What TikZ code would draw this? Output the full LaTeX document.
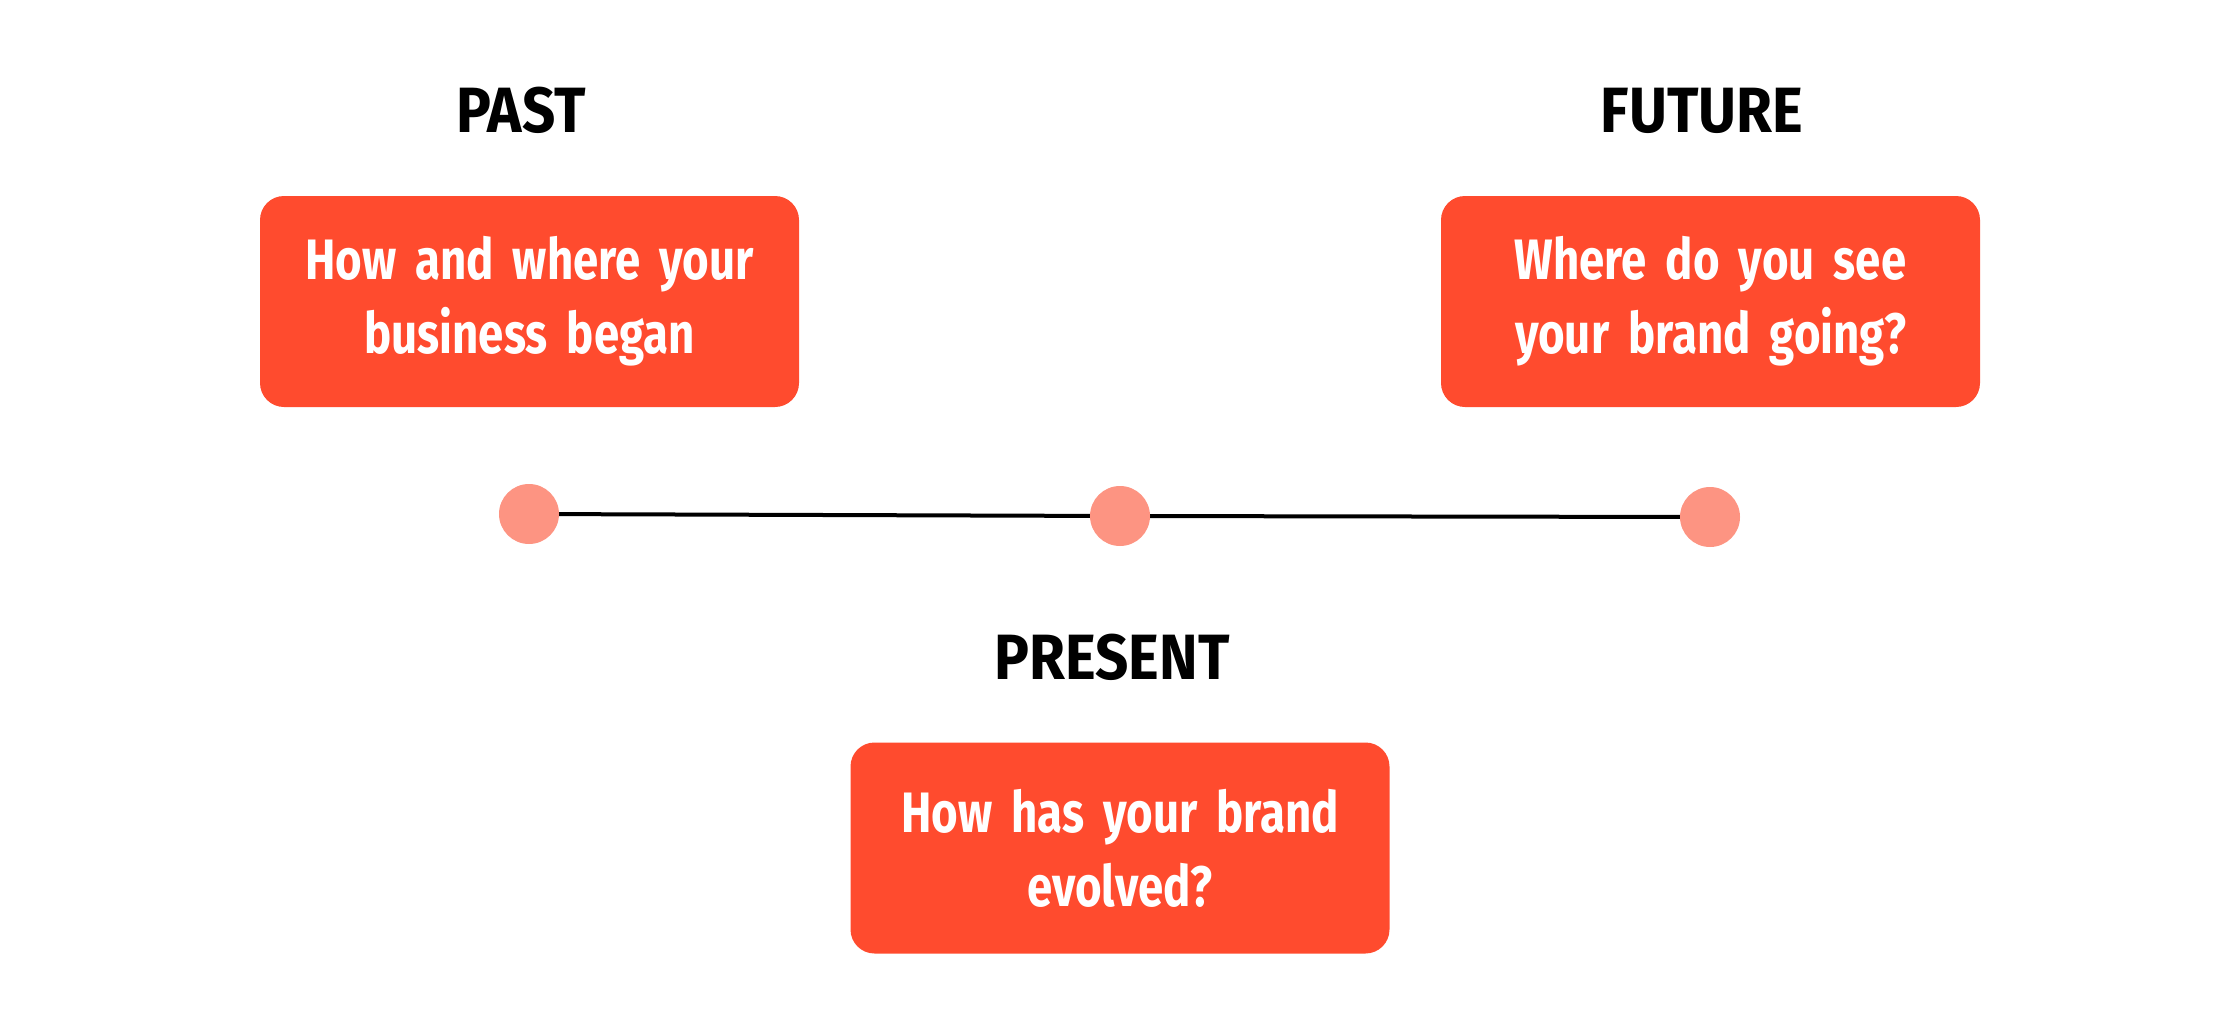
\documentclass[tikz,border=0pt]{standalone}
\usepackage{fontspec}
\setmainfont{Fira Sans}
\newfontfamily\hdfont[FakeStretch=0.91]{Fira Sans}
\newfontfamily\bdfont[FakeStretch=0.80]{Fira Sans}
\usetikzlibrary{backgrounds}
\definecolor{boxred}{HTML}{FF4B2E}
\definecolor{dotpink}{HTML}{FD9482}
\tikzset{
  heading/.style={anchor=base, text=black, inner sep=0pt,
    font=\hdfont\bfseries\fontsize{64}{70}\selectfont},
  qbox/.style={fill=boxred, draw=none, rounded corners=24pt,
    minimum width=539pt, minimum height=211pt, inner sep=0pt,
    text=white, align=center, text width=520pt,
    font=\bdfont\bfseries\fontsize{57}{74}\selectfont},
  tdot/.style={circle, fill=dotpink, draw=none, minimum size=60pt, inner sep=0pt},
  tline/.style={draw=black, line width=4pt}
}
\begin{document}
\begin{tikzpicture}[x=1pt,y=-1pt]
\useasboundingbox (0,0) rectangle (2240,1033);
% headings
\node[heading] (hpast) at (521,132) {PAST};
\node[heading] (hfuture) at (1702,132) {FUTURE};
\node[heading] (hpresent) at (1112,679) {PRESENT};
% boxes
\node[qbox] (bpast) at (529.5,301.5) {How and where your\\business began};
\node[qbox] (bfuture) at (1710.5,301.5) {Where do you see\\your brand going?};
\node[qbox] (bpresent) at (1120,848) {How has your brand\\evolved?};
% dots
\node[tdot] (d1) at (529,514) {};
\node[tdot] (d2) at (1120,516) {};
\node[tdot] (d3) at (1710,517) {};
\begin{scope}[on background layer]
\draw[tline] (d1.center) -- (d2.center) -- (d3.center);
\end{scope}
\end{tikzpicture}
\end{document}
